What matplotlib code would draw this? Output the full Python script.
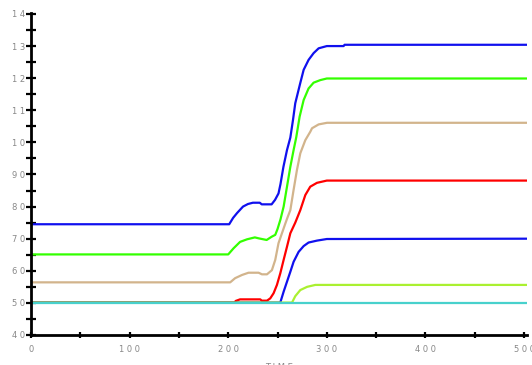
import numpy as np
import matplotlib
matplotlib.use("Agg")
import matplotlib.pyplot as plt

# series (x = time, y = value)
blue_top_x = [0, 201, 205, 209, 215, 220, 225, 232, 234, 244, 247.5, 251, 253, 256, 259.6, 263, 265.7, 268,
              273, 276.5, 281.5, 286.6, 291.7, 300, 317, 318, 503]
blue_top_y = [74.5, 74.5, 76.5, 78, 80, 80.8, 81.2, 81.2, 80.7, 80.7, 82.1, 84.1, 87, 92.4, 97.6, 101.5, 107, 112.2,
              118.4, 122.6, 125.7, 127.8, 129.3, 130, 130, 130.4, 130.4]

green_x = [0, 200, 205.4, 212, 219, 227, 231, 239, 244, 247.7, 250, 253, 256.2, 259.6, 263, 266.3, 269, 272.4,
           276.5, 281.5, 286.6, 293.4, 300, 503]
green_y = [65.1, 65.1, 67, 69, 69.8, 70.4, 70.1, 69.6, 70.6, 71.2, 73, 76, 80, 86.2, 92.4, 97.6, 101.6, 108,
           113.2, 116.8, 118.6, 119.4, 119.9, 119.9]

tan_x = [0, 202, 207, 214, 220.6, 230.8, 234.2, 239.3, 244.3, 247.7, 251, 254.5, 258, 260, 263, 266.3, 269.7,
         273.1, 278.2, 283.2, 285, 291.7, 300.2, 503]
tan_y = [56.4, 56.4, 57.7, 58.7, 59.4, 59.4, 58.9, 58.9, 60.2, 63.4, 68.6, 71.7, 74.8, 76.5, 78.9, 85.2, 91.4,
         96.6, 100.7, 103.3, 104.4, 105.6, 106.1, 106.1]

red_x = [0, 207, 207.5, 212, 232.5, 234, 239.3, 242.6, 246, 249.4, 252.8, 256.2, 259.6, 263, 268, 273.1, 278.2,
         283.2, 290, 300, 503]
red_y = [50.1, 50.1, 50.6, 51.1, 51.1, 50.7, 50.7, 51.4, 53, 55.6, 59.2, 63.4, 67.5, 71.7, 75, 78.9, 83.6,
         86.2, 87.4, 88.1, 88.1]

blue_low_x = [0, 252.8, 256.2, 259.6, 263, 266.3, 271.4, 276.5, 281.5, 290, 300, 503]
blue_low_y = [50.1, 50.1, 53.5, 56.6, 59.7, 62.8, 65.9, 67.7, 68.8, 69.4, 69.9, 70.0]

yellow_x = [0, 264.7, 268, 273.1, 280, 288.3, 503]
yellow_y = [50.1, 50.1, 52.1, 54, 55, 55.6, 55.6]

cyan_x = [0, 503]
cyan_y = [50.1, 50.1]

y_ticks = [40, 50, 60, 70, 80, 90, 100, 110, 120, 130, 140]
y_labels = ["4 0", "5 0", "6 0", "7 0", "8 0", "9 0", "1 0", "1 1", "1 2", "1 3", "1 4"]
x_ticks = [0, 100, 200, 300, 400, 500]
x_labels = ["0", "1 0 0", "2 0 0", "3 0 0", "4 0 0", "5 0 0"]

fig = plt.figure(figsize=(5.32, 3.65), dpi=100)
ax = fig.add_axes([31 / 532, 30 / 365, 496 / 532, 322 / 365])

lw = 1.6
ax.plot(blue_top_x, blue_top_y, color="#1010ee", lw=lw)
ax.plot(green_x, green_y, color="#33ff00", lw=lw)
ax.plot(tan_x, tan_y, color="#d2b48c", lw=lw)
ax.plot(red_x, red_y, color="#ff0000", lw=lw)
ax.plot(blue_low_x, blue_low_y, color="#1010ee", lw=lw)
ax.plot(yellow_x, yellow_y, color="#aaf030", lw=lw)
ax.plot(cyan_x, cyan_y, color="#48d1cc", lw=lw)

ax.set_xlim(0, 503)
ax.set_ylim(40, 140.3)

for s in ["top", "right"]:
    ax.spines[s].set_visible(False)
for s in ["left", "bottom"]:
    ax.spines[s].set_linewidth(2)
    ax.spines[s].set_color("black")

ax.set_yticks(y_ticks)
ax.set_yticklabels(y_labels)
ax.set_yticks(np.arange(45, 140, 10), minor=True)
ax.set_xticks(x_ticks)
ax.set_xticklabels(x_labels)
ax.set_xticks(np.arange(50, 500, 100), minor=True)

ax.tick_params(axis="y", which="both", direction="inout", length=7, width=1.6, color="black",
               labelsize=6, labelcolor="#888888", pad=1)
ax.tick_params(axis="x", which="both", direction="inout", length=5, width=1.6, color="black",
               labelsize=6, labelcolor="#888888", pad=5)

ax.set_xlabel("T I M E", fontsize=6, color="#888888", labelpad=6)

fig.savefig("out.png", dpi=100)
